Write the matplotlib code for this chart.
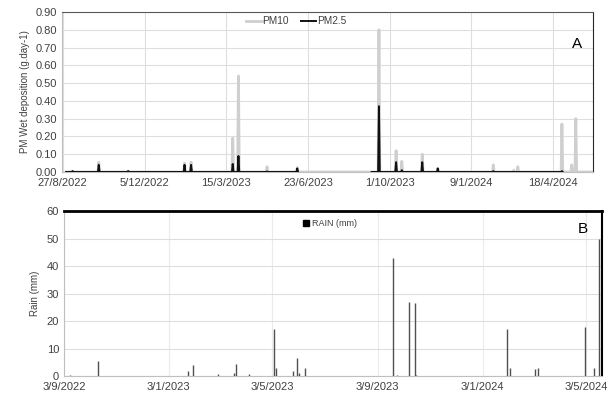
import matplotlib
matplotlib.use("Agg")
import matplotlib.pyplot as plt
import matplotlib.dates as mdates
import matplotlib.ticker as mticker
from matplotlib.patches import Patch
import pandas as pd

plt.rcParams['font.family'] = ['Liberation Sans', 'DejaVu Sans']

# panel A: PM wet deposition (g.day-1), daily readings around each event
pm10_days = ["2022-08-31", "2022-09-07", "2022-09-08", "2022-09-09", "2022-10-09", "2022-10-10", "2022-10-11",
             "2022-11-14", "2022-11-15", "2022-11-16", "2023-01-22", "2023-01-23", "2023-01-24",
             "2023-01-30", "2023-01-31", "2023-02-01", "2023-03-22", "2023-03-23", "2023-03-24",
             "2023-03-29", "2023-03-30", "2023-03-31", "2023-05-03", "2023-05-04", "2023-05-05",
             "2023-06-09", "2023-06-10", "2023-06-11", "2023-09-17", "2023-09-18", "2023-09-19",
             "2023-10-08", "2023-10-09", "2023-10-10", "2023-10-15", "2023-10-16", "2023-10-17",
             "2023-11-09", "2023-11-10", "2023-11-11", "2023-11-28", "2023-11-29", "2023-11-30",
             "2024-02-04", "2024-02-05", "2024-02-06", "2024-02-29", "2024-03-01", "2024-03-02",
             "2024-03-05", "2024-03-06", "2024-03-07", "2024-04-28", "2024-04-29", "2024-04-30",
             "2024-05-10", "2024-05-11", "2024-05-12", "2024-05-15", "2024-05-16", "2024-05-17",
             "2024-06-05"]
pm10 = [0, 0, 0.005, 0, 0, 0.055, 0,
        0, 0.005, 0, 0, 0.05, 0,
        0, 0.055, 0, 0, 0.19, 0,
        0, 0.54, 0, 0, 0.03, 0,
        0, 0.025, 0, 0, 0.80, 0,
        0, 0.12, 0, 0, 0.06, 0,
        0, 0.10, 0, 0, 0.02, 0,
        0, 0.04, 0, 0, 0.01, 0,
        0, 0.03, 0, 0, 0.27, 0,
        0, 0.04, 0, 0, 0.30, 0,
        0]

pm25_days = ["2022-08-31", "2022-09-07", "2022-09-08", "2022-09-09", "2022-10-09", "2022-10-10", "2022-10-11",
             "2022-11-14", "2022-11-15", "2022-11-16", "2023-01-22", "2023-01-23", "2023-01-24",
             "2023-01-30", "2023-01-31", "2023-02-01", "2023-03-22", "2023-03-23", "2023-03-24",
             "2023-03-29", "2023-03-30", "2023-03-31", "2023-05-03", "2023-05-04", "2023-05-05",
             "2023-06-09", "2023-06-10", "2023-06-11", "2023-06-12",
             "2023-09-09", "2023-09-17", "2023-09-18", "2023-09-19",
             "2023-10-08", "2023-10-09", "2023-10-10", "2023-10-15", "2023-10-16", "2023-10-17",
             "2023-11-09", "2023-11-10", "2023-11-11", "2023-11-28", "2023-11-29", "2023-11-30",
             "2024-02-04", "2024-02-05", "2024-02-06", "2024-04-28", "2024-04-29", "2024-04-30"]
pm25 = [0, 0, 0.005, 0, 0, 0.04, 0,
        0, 0.005, 0, 0, 0.04, 0,
        0, 0.04, 0, 0, 0.045, 0,
        0, 0.09, 0, 0, 0.003, 0,
        0, 0.02, 0, None,
        0, 0, 0.37, 0,
        0, 0.055, 0, 0, 0.01, 0,
        0, 0.055, 0, 0, 0.02, 0,
        0, 0.005, 0, 0, 0.005, 0]

# panel B: daily rain (mm)
rain_days = ["2022-09-10", "2022-10-13", "2023-01-25", "2023-01-31", "2023-03-01", "2023-03-20",
             "2023-03-22", "2023-04-06", "2023-05-05", "2023-05-08", "2023-05-27", "2023-06-01",
             "2023-06-03", "2023-06-11", "2023-09-21", "2023-09-25", "2023-10-10", "2023-10-17",
             "2023-10-18", "2024-01-31", "2024-02-04", "2024-03-04", "2024-03-08", "2024-05-01",
             "2024-05-12", "2024-05-17"]
rain = [0.5, 5.5, 2.0, 4.0, 0.8, 1.0,
        4.3, 0.8, 17.0, 3.0, 2.0, 6.5,
        1.0, 3.0, 43.0, 0.5, 27.0, 26.5,
        0.3, 17.0, 3.0, 2.5, 3.0, 18.0,
        3.0, 50.0]

top_ticks = pd.date_range("2022-08-27", periods=7, freq="100D")
bot_ticks = ["2022-09-03", "2023-01-03", "2023-05-03", "2023-09-03", "2024-01-03", "2024-05-03"]


def dmy(x, pos=None):
    d = mdates.num2date(x)
    return f"{d.day}/{d.month}/{d.year}"


fig = plt.figure(figsize=(6.12, 3.94), dpi=100)
ax = fig.add_axes([0.1013, 0.5635, 0.8676, 0.406])
ax2 = fig.add_axes([0.1046, 0.0456, 0.879, 0.4188])

tick_c = '#404040'

# ---- A
ax.plot(pd.to_datetime(pm10_days), pm10, color='#cfcfcf', lw=2.0, label='PM10', zorder=3)
pm25_s = pd.Series([float('nan') if v is None else v for v in pm25], index=pd.to_datetime(pm25_days))
ax.plot(pm25_s.index, pm25_s.values, color='#111111', lw=1.4, label='PM2.5', zorder=4)
ax.set_xlim(pd.Timestamp("2022-08-26"), pd.Timestamp("2024-06-06"))
ax.set_ylim(0, 0.9)
ax.set_yticks([i / 10 for i in range(10)])
ax.yaxis.set_major_formatter(mticker.FormatStrFormatter('%.2f'))
ax.set_xticks(top_ticks)
ax.xaxis.set_major_formatter(mticker.FuncFormatter(dmy))
ax.grid(True, color='#dedede', lw=0.8, zorder=0)
ax.tick_params(length=0, labelsize=8, labelcolor=tick_c)
ax.tick_params(axis='x', pad=4)
ax.set_ylabel('PM Wet deposition (g.day-1)', fontsize=7, color=tick_c, labelpad=4)
ax.spines['top'].set_color('#595959')
ax.spines['right'].set_color('#262626')
ax.spines['left'].set_color('#bfbfbf')
ax.spines['bottom'].set_color('#bfbfbf')
leg = ax.legend(loc='upper left', bbox_to_anchor=(0.33, 1.03), ncol=2, frameon=False,
                fontsize=7.3, handlelength=1.5, handletextpad=0.1, columnspacing=1.2)
for t in leg.get_texts():
    t.set_color(tick_c)
ax.text(0.97, 0.8, 'A', transform=ax.transAxes, fontsize=11, ha='center', va='center')

# ---- B
ax2.vlines(pd.to_datetime(rain_days), 0, rain, color='#505050', lw=1.0, zorder=3)
ax2.set_xlim(pd.Timestamp("2022-09-03"), pd.Timestamp("2024-05-21"))
ax2.set_ylim(0, 60)
ax2.set_yticks(range(0, 61, 10))
ax2.set_xticks(pd.to_datetime(bot_ticks))
ax2.xaxis.set_major_formatter(mticker.FuncFormatter(dmy))
ax2.grid(True, axis='y', color='#dedede', lw=0.8, zorder=0)
ax2.grid(True, axis='x', color='#ebebeb', lw=0.8, zorder=0)
ax2.tick_params(length=0, labelsize=8, labelcolor=tick_c)
ax2.tick_params(axis='x', pad=4.5)
ax2.set_ylabel('Rain (mm)', fontsize=7, color=tick_c, labelpad=5)
ax2.spines['top'].set_color('black')
ax2.spines['top'].set_linewidth(2.0)
ax2.spines['right'].set_color('black')
ax2.spines['right'].set_linewidth(1.5)
ax2.spines['left'].set_color('#bfbfbf')
ax2.spines['bottom'].set_color('#bfbfbf')
leg2 = ax2.legend(handles=[Patch(color='black', label='RAIN (mm)')], loc='upper left',
                  bbox_to_anchor=(0.43, 1.0), frameon=False, fontsize=6.5,
                  handlelength=0.6, handleheight=0.6, handletextpad=0.4)
for t in leg2.get_texts():
    t.set_color(tick_c)
ax2.text(0.965, 0.89, 'B', transform=ax2.transAxes, fontsize=11, ha='center', va='center')

fig.savefig('out.png', dpi=100)
